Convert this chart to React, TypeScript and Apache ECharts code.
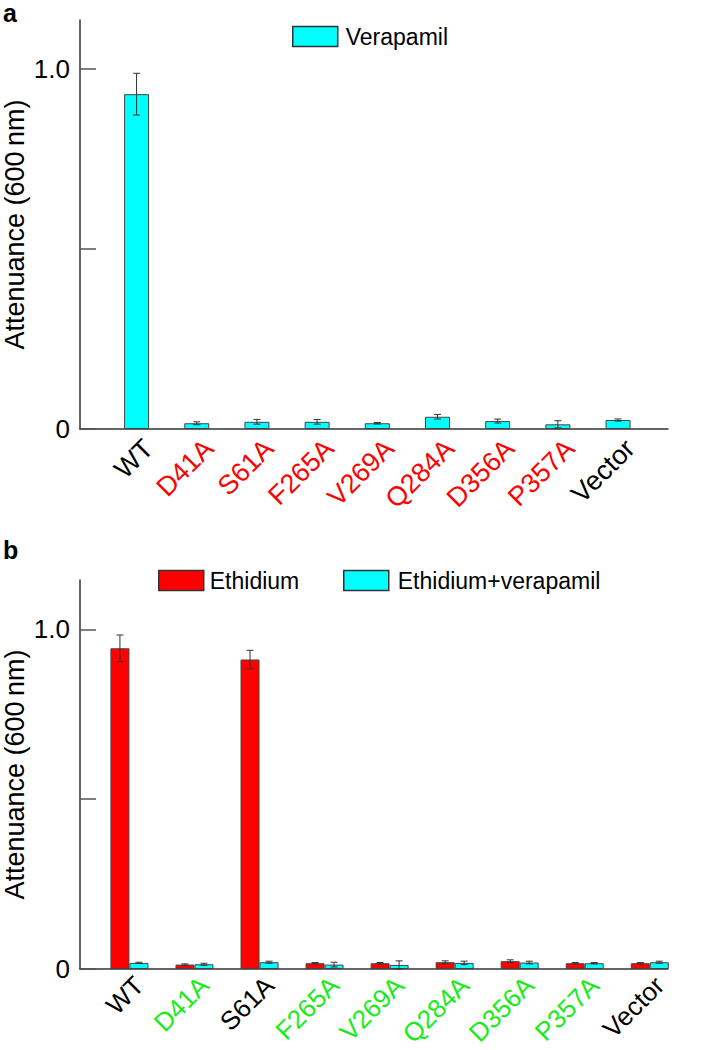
import React, { useEffect, useRef } from "react";
import * as echarts from "echarts";

const categories = ["WT", "D41A", "S61A", "F265A", "V269A", "Q284A", "D356A", "P357A", "Vector"];

// Panel a: Verapamil
const verapamilValues = [0.93, 0.016, 0.02, 0.02, 0.016, 0.034, 0.022, 0.013, 0.025];
const verapamilErrors = [0.058, 0.004, 0.0065, 0.0065, 0.002, 0.0065, 0.0055, 0.01, 0.003];

// Panel b: Ethidium / Ethidium+verapamil
const ethidiumValues = [0.944, 0.013, 0.911, 0.017, 0.017, 0.02, 0.023, 0.017, 0.017];
const ethidiumErrors = [0.039, 0.002, 0.027, 0.002, 0.002, 0.004, 0.004, 0.002, 0.002];
const ethVerValues = [0.018, 0.014, 0.02, 0.013, 0.012, 0.018, 0.019, 0.017, 0.02];
const ethVerErrors = [0.002, 0.003, 0.003, 0.007, 0.012, 0.005, 0.004, 0.002, 0.003];

const yTickValues = [0, 0.5, 1];
const yLabelValues = [0, 1];

// label colour keys (style)
const topLabelStyle = ["k", "r", "r", "r", "r", "r", "r", "r", "k"];
const bottomLabelStyle = ["k", "g", "k", "g", "g", "g", "g", "g", "k"];

const FONT = "Liberation Sans, Arial, Helvetica, sans-serif";
const RED = "#ff0000";
const CYAN = "#00ffff";
const GREEN = "#18ec18";

function richStyles(fs: number) {
  return {
    k: { color: "#000", fontSize: fs, fontFamily: FONT },
    r: { color: RED, fontSize: fs, fontFamily: FONT },
    g: { color: GREEN, fontSize: fs, fontFamily: FONT },
  };
}

function errorSeries(values: number[], errors: number[], axisIdx: number, offset: number, name: string) {
  return {
    type: "custom",
    name,
    xAxisIndex: axisIdx,
    yAxisIndex: axisIdx,
    z: 10,
    silent: true,
    data: values.map((v, i) => [i, v - errors[i], v + errors[i]]),
    encode: { x: 0, y: [1, 2] },
    renderItem: (params: any, api: any) => {
      const x = api.value(0);
      const lo = api.coord([x, api.value(1)]);
      const hi = api.coord([x, api.value(2)]);
      const cx = lo[0] + offset;
      const w = 3.5;
      const style = { stroke: "#333", lineWidth: 1 };
      return {
        type: "group",
        children: [
          { type: "line", shape: { x1: cx, y1: lo[1], x2: cx, y2: hi[1] }, style },
          { type: "line", shape: { x1: cx - w, y1: hi[1], x2: cx + w, y2: hi[1] }, style },
          { type: "line", shape: { x1: cx - w, y1: lo[1], x2: cx + w, y2: lo[1] }, style },
        ],
      };
    },
  };
}

function yAxisCfg(gridIndex: number, max: number) {
  return {
    type: "value",
    gridIndex,
    min: 0,
    max,
    name: "Attenuance (600\u2009nm)",
    nameLocation: "middle",
    nameGap: 52,
    nameMoveOverlap: false,
    nameTextStyle: { fontSize: 27, fontFamily: FONT, color: "#000" },
    axisLine: { show: true, onZero: false, lineStyle: { color: "#333", width: 1.5 } },
    axisTick: { show: true, inside: true, length: 16, customValues: yTickValues, lineStyle: { color: "#555", width: 1.5 } },
    axisLabel: {
      show: true,
      customValues: yLabelValues,
      margin: 10,
      fontSize: 26,
      fontFamily: FONT,
      color: "#000",
      formatter: (v: number) => (v === 0 ? "0" : v.toFixed(1)),
    },
    splitLine: { show: false },
  };
}

function xAxisCfg(gridIndex: number, min: number, max: number, styleKeys: string[], shift: number, fs: number, margin: number) {
  return {
    type: "value",
    gridIndex,
    min,
    max,
    axisLine: { show: true, onZero: false, lineStyle: { color: "#333", width: 1.5 } },
    axisTick: { show: false },
    splitLine: { show: false },
    axisLabel: {
      show: true,
      customValues: categories.map((_, i) => i + shift),
      rotate: 45,
      margin,
      fontSize: fs,
      fontFamily: FONT,
      formatter: (v: number) => {
        const i = Math.round(v);
        return `{${styleKeys[i]}|${categories[i]}}`;
      },
      rich: richStyles(fs),
    },
  };
}

export default function App() {
  const ref = useRef<HTMLDivElement>(null);
  useEffect(() => {
    if (!ref.current) return;
    const chart = echarts.init(ref.current, undefined, { renderer: "svg" });
    const barBorder = { borderColor: "#444", borderWidth: 1 };
    const legendBase = {
      icon: "rect",
      itemWidth: 45,
      itemHeight: 20,
      itemStyle: { borderColor: "#333", borderWidth: 1.5 },
      selectedMode: false,
    };
    const option: any = {
      animation: false,
      backgroundColor: "#fff",
      textStyle: { fontFamily: FONT },
      grid: [
        { left: 80, top: 20, width: 588, height: 409, containLabel: false, outerBoundsMode: "none" },
        { left: 80, top: 580, width: 588, height: 389, containLabel: false, outerBoundsMode: "none" },
      ],
      xAxis: [
        xAxisCfg(0, -0.94, 8.83, topLabelStyle, 0.2, 27, 15),
        xAxisCfg(1, -0.76, 8.28, bottomLabelStyle, 0.15, 26, 12),
      ],
      yAxis: [yAxisCfg(0, 1.136), yAxisCfg(1, 1.145)],
      legend: [
        {
          ...legendBase,
          data: ["Verapamil"],
          left: 287,
          top: 20,
          textStyle: { fontSize: 23, fontFamily: FONT, color: "#000", padding: [0, 0, 0, 3] },
        },
        {
          ...legendBase,
          data: ["Ethidium"],
          left: 153,
          top: 564,
          textStyle: { fontSize: 23, fontFamily: FONT, color: "#000", padding: [0, 0, 0, 1] },
        },
        {
          ...legendBase,
          data: ["Ethidium+verapamil"],
          left: 338,
          top: 564,
          textStyle: { fontSize: 23, fontFamily: FONT, color: "#000", padding: [0, 0, 0, 4] },
        },
      ],
      graphic: [
        { type: "text", left: 3, top: 0, style: { text: "a", font: `bold 25px ${FONT}`, fill: "#000" } },
        { type: "text", left: 3, top: 537, style: { text: "b", font: `bold 25px ${FONT}`, fill: "#000" } },
      ],
      series: [
        {
          type: "bar",
          name: "Verapamil",
          xAxisIndex: 0,
          yAxisIndex: 0,
          barWidth: 25,
          itemStyle: { color: CYAN, ...barBorder },
          data: verapamilValues.map((v, i) => [i, v]),
        },
        errorSeries(verapamilValues, verapamilErrors, 0, 0, "errA"),
        {
          type: "bar",
          name: "Ethidium",
          xAxisIndex: 1,
          yAxisIndex: 1,
          barWidth: 19,
          barGap: "0%",
          itemStyle: { color: RED, ...barBorder },
          data: ethidiumValues.map((v, i) => [i, v]),
        },
        {
          type: "bar",
          name: "Ethidium+verapamil",
          xAxisIndex: 1,
          yAxisIndex: 1,
          barWidth: 19,
          barGap: "0%",
          itemStyle: { color: CYAN, ...barBorder },
          data: ethVerValues.map((v, i) => [i, v]),
        },
        errorSeries(ethidiumValues, ethidiumErrors, 1, -9.5, "errB1"),
        errorSeries(ethVerValues, ethVerErrors, 1, 9.5, "errB2"),
      ],
    };
    chart.setOption(option);
    return () => chart.dispose();
  }, []);
  return (
    <div
      ref={ref}
      style={{ position: "fixed", left: 0, top: 0, width: 707, height: 1050, background: "#fff" }}
    />
  );
}
